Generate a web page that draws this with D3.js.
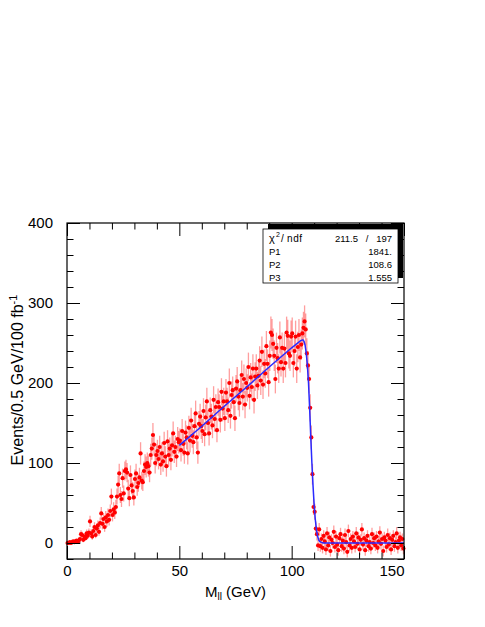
<!DOCTYPE html>
<html><head><meta charset="utf-8">
<script src="https://cdn.jsdelivr.net/npm/d3@7"></script>
<style>
body{margin:0;background:#fff}
svg{display:block}
text{font-family:"Liberation Sans",Arial,Helvetica,sans-serif;fill:#000}
</style>
</head><body>
<svg id="chart" width="485" height="627"></svg>
<script>
// ---------- data (0.5 GeV bins from 0 to 150 GeV) ----------
const binLow = 0, binWidth = 0.5;
const counts = [
  0,0,1,0,1,2,1,2,3,2,
  3,5,11,10,4,8,6,12,9,13,
  27,12,8,15,20,10,18,22,14,25,
  37,24,30,20,32,27,35,29,40,58,
  35,42,38,45,58,73,87,60,55,81,
  62,90,92,88,68,56,85,72,65,57,
  80,87,70,75,82,112,78,76,90,98,
  95,100,96,88,110,118,135,123,100,110,
  115,105,120,98,112,102,125,108,96,127,
  110,118,104,122,137,114,120,108,130,126,
  128,116,140,124,113,138,132,112,144,128,
  153,134,126,146,162,132,113,149,158,146,
  140,165,136,157,177,150,137,166,158,147,
  179,155,170,141,176,170,154,189,168,177,
  156,188,177,166,200,159,185,191,176,156,
  193,202,183,175,191,210,183,205,173,200,
  194,220,184,207,195,218,179,208,218,197,
  209,228,203,239,198,224,212,246,224,201,
  234,263,260,249,234,205,244,231,218,257,
  226,244,218,243,225,263,259,237,234,258,
  262,225,240,258,218,245,260,232,248,262,
  269,277,267,237,222,205,169,132,86,45,
  39,18,11,-3,17,-4,5,-6,9,2,
  -8,12,-3,7,-10,4,0,14,-5,8,
  -2,-9,6,11,-4,3,-7,10,1,-11,
  15,-3,5,-6,8,2,-5,12,-1,7,
  -8,4,17,-2,6,-9,3,9,-4,1,
  -7,11,0,6,-3,8,-6,2,13,-1,
  5,-10,7,3,-5,10,-2,6,-8,4,
  9,-4,1,12,-6,3,7,-3,5,-7
];
const errors = [
  0,0,1,0,1,2,1,2,2,2,
  3,3,5,4,3,4,3,5,4,5,
  7,5,4,5,6,4,6,6,5,7,
  8,7,7,6,8,7,8,7,8,10,
  8,9,8,9,10,11,12,10,10,12,
  10,12,12,12,11,10,12,11,11,10,
  12,12,11,11,12,14,11,11,12,13,
  13,13,13,12,14,14,15,14,13,14,
  14,13,14,13,14,13,14,13,13,14,
  14,14,13,14,15,14,14,13,15,14,
  15,14,15,15,14,15,15,14,15,15,
  16,15,15,16,16,15,14,16,16,16,
  15,16,15,16,17,16,15,16,16,16,
  17,16,16,15,17,16,16,17,16,17,
  16,17,17,16,18,16,17,17,17,16,
  17,18,17,17,17,18,17,18,17,18,
  17,18,17,18,17,18,17,18,18,17,
  18,18,18,19,18,18,18,19,18,18,
  19,20,20,19,19,18,19,19,18,20,
  18,19,18,19,18,20,20,19,19,20,
  20,18,19,20,18,19,20,19,19,20,
  20,20,20,19,18,18,17,15,13,10,
  10,9,8,7,8,7,7,7,7,7,
  7,8,7,7,7,7,7,8,7,7,
  7,7,7,8,7,7,7,8,7,7,
  8,7,7,7,7,7,7,8,7,7,
  7,7,8,7,7,7,7,7,7,7,
  7,8,7,7,7,7,7,7,8,7,
  7,7,7,7,7,8,7,7,7,7,
  7,7,7,8,7,7,7,7,7,7
];
// fitted curve
const fitX = [50,60,70,80,90,100,104,105,105.5,106,106.5,107,107.5,108,108.5,109,109.5,110,110.5,111,111.5,112,112.5,113,114,150];
const fitY = [122,146,171,195,220,244,253,254,252,247,237,222,200,168,133,100,72,48,30,17,9,4,2,1,0,0];
// zero line drawn at low mass
const zeroSegX = [0,6];
// ticks
const xMajor = [0,50,100,150];
const xMinor = [10,20,30,40,60,70,80,90,110,120,130,140];
const yMajor = [0,100,200,300,400];
const yMinor = [-20,20,40,60,80,120,140,160,180,220,240,260,280,320,340,360,380];
// stats box
const statNames = ["P1","P2","P3"];
const statValues = ["1841.","108.6","1.555"];
const chi2Value = "211.5", ndfValue = "197";

// ---------- drawing ----------
const L = 67, R = 404, T = 223, B = 559;
const svg = d3.select("#chart");
const x = d3.scaleLinear().domain([0,150]).range([L,R]);
const y = d3.scaleLinear().domain([-20,400]).range([B,T]);

const pts = counts.map((v,i)=>({x: binLow + binWidth*(i+0.5), v, e: errors[i]}));

// zero segment (black)
svg.append("line")
  .attr("x1", x(zeroSegX[0])).attr("x2", x(zeroSegX[1]))
  .attr("y1", y(0)).attr("y2", y(0))
  .attr("stroke","#000").attr("stroke-width",1.2);

// error bars
svg.append("g").selectAll("line").data(pts).join("line")
  .attr("x1", d=>x(d.x)).attr("x2", d=>x(d.x))
  .attr("y1", d=>y(d.v - d.e)).attr("y2", d=>y(d.v + d.e))
  .attr("stroke","rgba(255,40,40,0.45)").attr("stroke-width",1.3);

// markers
svg.append("g").selectAll("circle").data(pts).join("circle")
  .attr("cx", d=>x(d.x)).attr("cy", d=>y(d.v)).attr("r",2.1)
  .attr("fill","#ff0000");

// fit line
const fitData = fitX.map((fx,i)=>[fx, fitY[i]]);
svg.append("path").datum(fitData)
  .attr("d", d3.line().x(d=>x(d[0])).y(d=>y(d[1])))
  .attr("fill","none").attr("stroke","#2a2aff").attr("stroke-width",1.5);

// axes
const fmt = d3.format("d");
function styleAxis(g){ g.select(".domain").remove(); g.selectAll("line").attr("stroke","#000"); g.selectAll("text").attr("font-size",15).attr("font-family","Liberation Sans, Arial, sans-serif"); }

const gB = svg.append("g").attr("transform",`translate(0,${B})`)
  .call(d3.axisBottom(x).tickValues(xMajor).tickSize(-13).tickPadding(6).tickFormat(fmt));
styleAxis(gB);
gB.selectAll("text").filter(d=>d===150).attr("text-anchor","end");
svg.append("g").attr("transform",`translate(0,${B})`)
  .call(d3.axisBottom(x).tickValues(xMinor).tickSize(-6.5).tickFormat("")).call(styleAxis);
svg.append("g").attr("transform",`translate(0,${T})`)
  .call(d3.axisTop(x).tickValues(xMajor).tickSize(-13).tickFormat("")).call(styleAxis);
svg.append("g").attr("transform",`translate(0,${T})`)
  .call(d3.axisTop(x).tickValues(xMinor).tickSize(-6.5).tickFormat("")).call(styleAxis);

const gL = svg.append("g").attr("transform",`translate(${L},0)`)
  .call(d3.axisLeft(y).tickValues(yMajor).tickSize(-13).tickPadding(14).tickFormat(fmt));
styleAxis(gL);
svg.append("g").attr("transform",`translate(${L},0)`)
  .call(d3.axisLeft(y).tickValues(yMinor).tickSize(-6.5).tickFormat("")).call(styleAxis);
svg.append("g").attr("transform",`translate(${R},0)`)
  .call(d3.axisRight(y).tickValues(yMajor).tickSize(-13).tickFormat("")).call(styleAxis);
svg.append("g").attr("transform",`translate(${R},0)`)
  .call(d3.axisRight(y).tickValues(yMinor).tickSize(-6.5).tickFormat("")).call(styleAxis);

// frame
svg.append("rect").attr("x",L).attr("y",T).attr("width",R-L).attr("height",B-T)
  .attr("fill","none").attr("stroke","#000").attr("stroke-width",1.2);

// axis titles
const xt = svg.append("text").attr("x",(L+R)/2).attr("y",597).attr("text-anchor","middle").attr("font-size",15);
xt.append("tspan").text("M");
xt.append("tspan").attr("font-size",10).attr("dy",3).text("ll");
xt.append("tspan").attr("dy",-3).text(" (GeV)");

const yt = svg.append("text").attr("transform","translate(23,380) rotate(-90)").attr("text-anchor","middle").attr("font-size",16);
yt.append("tspan").text("Events/0.5 GeV/100 fb");
yt.append("tspan").attr("font-size",11).attr("dy",-6).text("-1");

// stats box
const bx = 263, by = 229, bw = 135, bh = 54;
svg.append("rect").attr("x",bx+5).attr("y",by-5).attr("width",bw).attr("height",bh).attr("fill","#000");
svg.append("rect").attr("x",bx).attr("y",by).attr("width",bw).attr("height",bh).attr("fill","#fff").attr("stroke","#000").attr("stroke-width",0.8);
const fs = 9.5;
svg.append("text").attr("x",bx+6).attr("y",by+13).attr("font-size",11).text("χ");
svg.append("text").attr("x",bx+13).attr("y",by+8).attr("font-size",7).text("2");
svg.append("text").attr("x",bx+18).attr("y",by+13).attr("font-size",10).text("/");
svg.append("text").attr("x",bx+24).attr("y",by+13).attr("font-size",10).attr("letter-spacing",0.6).text("ndf");
svg.append("text").attr("x",bx+95).attr("y",by+13).attr("font-size",fs).attr("text-anchor","end").text(chi2Value);
svg.append("text").attr("x",bx+104).attr("y",by+13).attr("font-size",fs).attr("text-anchor","middle").text("/");
svg.append("text").attr("x",bx+129).attr("y",by+13).attr("font-size",fs).attr("text-anchor","end").text(ndfValue);
statNames.forEach((n,i)=>{
  svg.append("text").attr("x",bx+6).attr("y",by+26+i*13).attr("font-size",fs).text(n);
  svg.append("text").attr("x",bx+129).attr("y",by+26+i*13).attr("font-size",fs).attr("text-anchor","end").text(statValues[i]);
});
</script>
</body></html>
